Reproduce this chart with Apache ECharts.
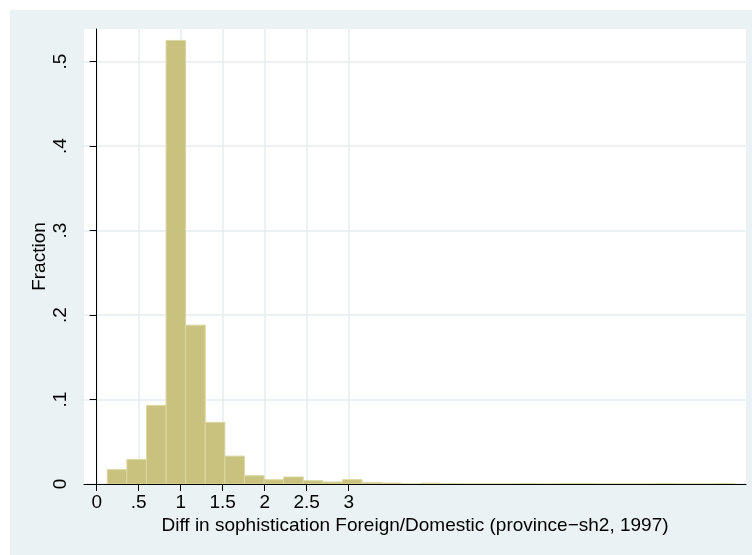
<!DOCTYPE html>
<html>
<head>
<meta charset="utf-8">
<script src="https://cdn.jsdelivr.net/npm/echarts@6/dist/echarts.min.js"></script>
<style>
  html, body { margin: 0; padding: 0; background: #fff; }
  #chart { width: 752px; height: 555px; }
</style>
</head>
<body>
<div id="chart"></div>
<script>
// Histogram of the foreign/domestic sophistication ratio (province-sh2, 1997)
const binStart = 0.126;
const binWidth = 0.2333;
const fractions = [
  0.017, 0.029, 0.093, 0.525, 0.188, 0.073, 0.033, 0.0098,
  0.005, 0.0083, 0.0039, 0.0024, 0.0051, 0.0019, 0.0012, 0,
  0.001, 0.0004, 0, 0, 0, 0.0004, 0, 0.0004,
  0.0004, 0, 0, 0, 0.0004, 0, 0, 0.0004
];
const xTicks = [0, 0.5, 1, 1.5, 2, 2.5, 3];
const yTicks = [0, 0.1, 0.2, 0.3, 0.4, 0.5];
const xTitle = 'Diff in sophistication Foreign/Domestic (province\u2212sh2, 1997)';
const yTitle = 'Fraction';

const bins = fractions.map((f, i) => [binStart + i * binWidth, binStart + (i + 1) * binWidth, f]);

const fmt = v => {
  if (v === 0) return '0';
  let s = String(+v.toFixed(2));
  return s.startsWith('0.') ? s.slice(1) : s;
};

const FONT = '"Liberation Sans", Arial, Helvetica, sans-serif';
const chart = echarts.init(document.getElementById('chart'), null, { renderer: 'canvas' });

chart.setOption({
  backgroundColor: '#ffffff',
  animation: false,
  graphic: [{
    type: 'rect', z: -10, silent: true,
    shape: { x: 10, y: 10, width: 742, height: 545 },
    style: { fill: '#eaf2f3' }
  }],
  grid: {
    left: 84, top: 29, width: 662, height: 455,
    show: true, backgroundColor: '#ffffff', borderWidth: 0
  },
  xAxis: {
    type: 'value', min: -0.151, max: 7.730,
    name: xTitle, nameLocation: 'middle', nameGap: 32, nameMoveOverlap: false,
    nameTextStyle: { fontFamily: FONT, fontSize: 19, color: '#000' },
    axisLine: { show: true, onZero: false, lineStyle: { color: '#000', width: 1 } },
    axisTick: { show: true, length: 7, customValues: xTicks, lineStyle: { color: '#000' } },
    axisLabel: { customValues: xTicks, formatter: fmt, margin: 9, fontFamily: FONT, fontSize: 19, color: '#000' },
    splitLine: { show: true, lineStyle: { color: '#e6eef1', width: 1.5 } }
  },
  yAxis: {
    type: 'value', min: 0, max: 0.5385,
    name: yTitle, nameLocation: 'middle', nameGap: 35, nameRotate: 90, nameMoveOverlap: false,
    nameTextStyle: { fontFamily: FONT, fontSize: 19, color: '#000' },
    axisLine: { show: true, lineStyle: { color: '#000', width: 1 } },
    axisTick: { show: true, length: 7, customValues: yTicks, lineStyle: { color: '#000' } },
    axisLabel: { customValues: yTicks, formatter: fmt, rotate: 90, margin: 14, fontFamily: FONT, fontSize: 19, color: '#000' },
    splitLine: { show: true, lineStyle: { color: '#e6eef1', width: 1.5 } }
  },
  series: [{
    type: 'custom',
    data: bins,
    encode: { x: [0, 1], y: 2 },
    clip: true,
    renderItem: function (params, api) {
      const p0 = api.coord([api.value(0), 0]);
      const p1 = api.coord([api.value(1), api.value(2)]);
      return {
        type: 'rect',
        shape: { x: p0[0], y: p1[1], width: p1[0] - p0[0], height: p0[1] - p1[1] },
        style: { fill: '#c9c27e', stroke: '#dcd7a2', lineWidth: 1 }
      };
    }
  }]
});
</script>
</body>
</html>
